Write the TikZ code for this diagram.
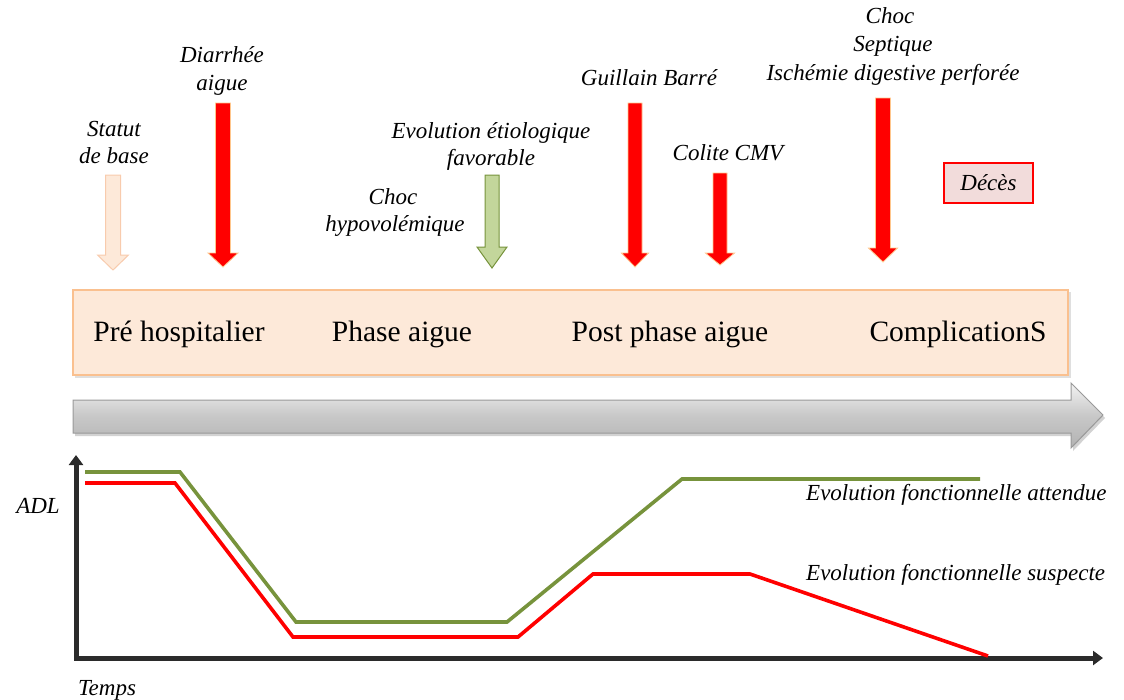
\documentclass[tikz,border=0pt]{standalone}
\usepackage{fontspec}
\setmainfont{Liberation Serif}
\usetikzlibrary{arrows.meta}
\definecolor{peach}{RGB}{253,233,217}
\definecolor{peachdraw}{RGB}{250,192,143}
\definecolor{peachline}{RGB}{248,203,173}
\definecolor{olive}{RGB}{119,147,60}
\definecolor{lightolive}{RGB}{195,214,155}
\definecolor{rosefill}{RGB}{242,220,219}
\definecolor{axisgray}{RGB}{43,43,43}
\definecolor{shaftgray}{RGB}{200,200,200}
\newcommand\vArrow[7]{%
  \draw[#1] (#2-#6,#3) -- (#2+#6,#3) -- (#2+#6,#4) -- (#2+#7,#4) -- (#2,#5)
    -- (#2-#7,#4) -- (#2-#6,#4) -- cycle;}
\tikzset{
  lbl/.style={anchor=base,inner sep=0pt,font=\fontsize{23}{27}\selectfont\itshape},
  phase/.style={anchor=base,inner sep=0pt,font=\fontsize{29.5}{33}\selectfont},
  redarrow/.style={fill=red,draw=orange!45,line width=0.8pt},
  curve/.style={line width=3.6pt,line join=miter},
}
\begin{document}
\begin{tikzpicture}[x=1pt,y=-1pt]
\useasboundingbox (0,0) rectangle (1124,699);
% phase band
\fill[gray!25] (75,292) rectangle (1071,378);
\draw[fill=peach,draw=peachdraw,line width=1.2pt] (73,290) rectangle (1068,375);
\node[phase] (p1) at (179,341) {Pré hospitalier};
\node[phase] (p2) at (402,341) {Phase aigue};
\node[phase] (p3) at (670,341) {Post phase aigue};
\node[phase] (p4) at (958,341) {ComplicationS};
% big time arrow
\fill[gray!35] (75,403) -- (1073,403) -- (1073,386) -- (1105,418) -- (1073,451) -- (1073,436) -- (75,436) -- cycle;
\shade[top color=gray!10,bottom color=gray!60,middle color=shaftgray,draw=gray!80,line width=1pt]
  (73,400) -- (1071,400) -- (1071,383) -- (1103,415) -- (1071,448) -- (1071,433) -- (73,433) -- cycle;
% top arrows
\vArrow{fill=peach,draw=peachline,line width=1pt}{113}{175}{255}{270}{7.5}{15.5}
\vArrow{redarrow}{223}{103}{253}{267}{7.5}{15}
\vArrow{fill=lightolive,draw=olive,line width=1pt}{492}{175}{247}{268}{7}{15}
\vArrow{redarrow}{635}{103}{253}{267}{7}{13.5}
\vArrow{redarrow}{720}{173}{253}{265}{7}{14.5}
\vArrow{redarrow}{883}{98}{248}{262}{7.5}{14.5}
% top labels
\node[lbl] (s1) at (114,136) {Statut};
\node[lbl] (s2) at (114,163) {de base};
\node[lbl] (d1) at (222,62) {Diarrhée};
\node[lbl] (d2) at (222,90) {aigue};
\node[lbl] (e1) at (491,138) {Evolution étiologique};
\node[lbl] (e2) at (491,165) {favorable};
\node[lbl] (h1) at (393,204) {Choc};
\node[lbl] (h2) at (395,231) {hypovolémique};
\node[lbl] (g1) at (649,85) {Guillain Barré};
\node[lbl] (c1) at (728,160) {Colite CMV};
\node[lbl] (k1) at (890,23) {Choc};
\node[lbl] (k2) at (893,51) {Septique};
\node[lbl] (k3) at (893,80) {Ischémie digestive perforée};
\node[draw=red,fill=rosefill,line width=1.2pt,minimum width=89pt,minimum height=40pt,inner sep=0pt,
  font=\fontsize{23}{27}\selectfont\itshape] (dc) at (988.5,183) {Décès};
% axes
\draw[axisgray,line width=5pt,{Triangle[width=14pt,length=10pt]}-{Triangle[width=14pt,length=10pt]}]
  (76,455) -- (76,658) -- (1103,658);
\node[lbl] (adl) at (38,513) {ADL};
\node[lbl] (tps) at (107,695) {Temps};
% curves
\draw[curve,olive] (85,472) -- (180,472) -- (296,622) -- (507,622) -- (682,479) -- (980,479);
\draw[curve,red] (85,483) -- (175,483) -- (293,637) -- (518,637) -- (593,574) -- (750,574) -- (988,656);
\node[lbl,anchor=base west] (ea) at (806,500) {Evolution fonctionnelle attendue};
\node[lbl,anchor=base west] (es) at (806,580) {Evolution fonctionnelle suspecte};
\end{tikzpicture}
\end{document}
